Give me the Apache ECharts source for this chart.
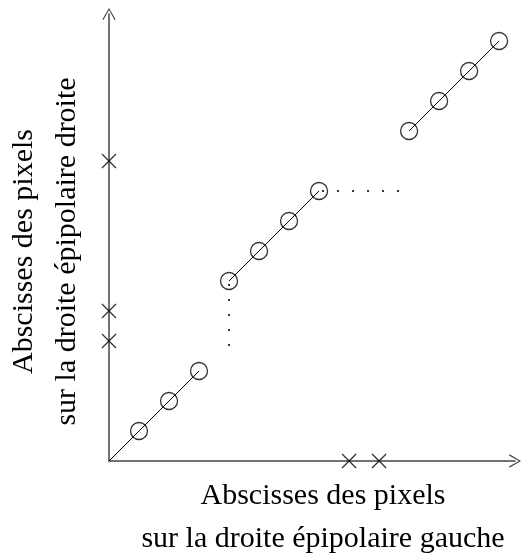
<!DOCTYPE html>
<html>
<head>
<meta charset="utf-8">
<script src="https://cdn.jsdelivr.net/npm/echarts@6/dist/echarts.min.js"></script>
<style>html,body{margin:0;padding:0;background:#fff}#c{width:524px;height:558px}</style>
</head>
<body>
<div id="c"></div>
<script>
// Matched pixel pairs (left abscissa, right abscissa)
const segment1 = [[0, 0], [1, 1], [2, 2], [3, 3]];
const segment2 = [[4, 6], [5, 7], [6, 8], [7, 9]];
const segment3 = [[10, 11], [11, 12], [12, 13], [13, 14]];
const circles = [[1, 1], [2, 2], [3, 3], [4, 6], [5, 7], [6, 8], [7, 9], [10, 11], [11, 12], [12, 13], [13, 14]];
// Occluded / unmatched pixels
const crossesX = [[8, 0], [9, 0]];
const crossesY = [[0, 4], [0, 5], [0, 10]];
// Dotted discontinuity guides
const dottedV = [[4, 6], [4, 3.4]];
const dottedH = [[7, 9], [9.7, 9]];
const xName = 'Abscisses des pixels\nsur la droite épipolaire gauche';
const yName = 'Abscisses des pixels\nsur la droite épipolaire droite';

const chevron = 'path://M0,12 L7,0 L14,12 L12.9,12.6 L7,2.2 L1.1,12.6 Z';
const axisCommon = {
  type: 'value',
  min: 0,
  axisLine: { show: true, onZero: false, symbol: ['none', chevron], symbolSize: [14, 12],
    lineStyle: { color: '#444', width: 1.5 } },
  axisTick: { show: false },
  axisLabel: { show: false },
  splitLine: { show: false },
  nameLocation: 'middle'
};
const font = { fontFamily: 'Liberation Serif', fontSize: 30, color: '#000', lineHeight: 43 };

const chart = echarts.init(document.getElementById('c'));
const lineSeries = d => ({ type: 'line', data: d, symbol: 'none', silent: true,
  lineStyle: { color: '#000', width: 1 } });
const dotSeries = d => ({ type: 'line', data: d, symbol: 'none', silent: true,
  lineStyle: { color: '#333', width: 2, type: [2, 13], dashOffset: -3 } });
chart.setOption({
  animation: false,
  grid: { left: 109, right: 9, top: 14, bottom: 97, containLabel: false, outerBoundsMode: 'none' },
  xAxis: Object.assign({}, axisCommon, { max: 13.53, name: xName, nameGap: 14,
    nameTextStyle: Object.assign({}, font, { padding: [0, 0, 0, 22] }) }),
  yAxis: Object.assign({}, axisCommon, { max: 14.9, name: yName, nameGap: 20, nameRotate: 90,
    nameTextStyle: Object.assign({}, font, { padding: [0, 28, 0, 0] }) }),
  series: [
    lineSeries(segment1), lineSeries(segment2), lineSeries(segment3),
    dotSeries(dottedV), dotSeries(dottedH),
    { type: 'scatter', data: circles, symbol: 'circle', symbolSize: 17, silent: true,
      itemStyle: { color: 'rgba(0,0,0,0)', borderColor: '#000', borderWidth: 1.3 } },
    { type: 'scatter', data: crossesX.concat(crossesY), symbol: 'path://M0,0L10,10M10,0L0,10',
      symbolSize: 14, silent: true, z: 5,
      itemStyle: { color: 'rgba(0,0,0,0)', borderColor: '#000', borderWidth: 1.3 } }
  ]
});
</script>
</body>
</html>
